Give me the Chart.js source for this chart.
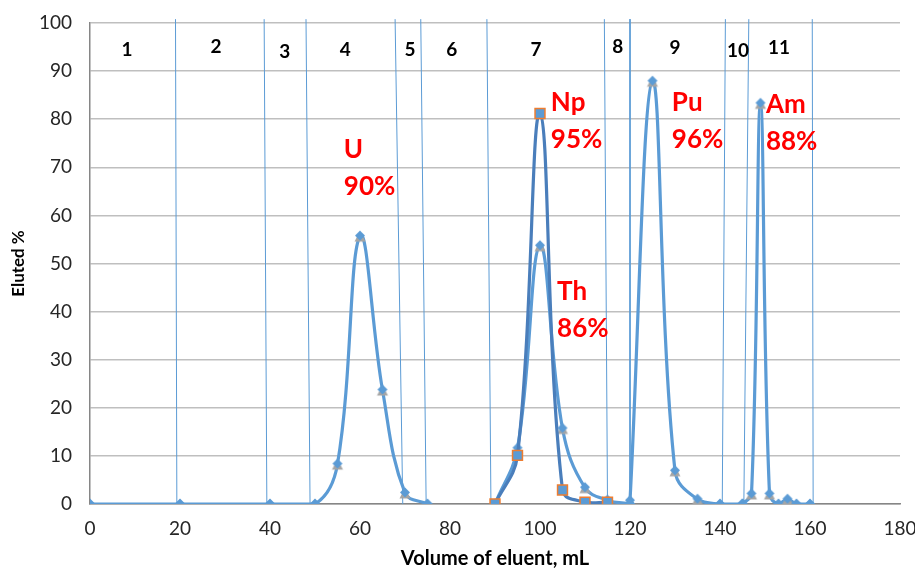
<!DOCTYPE html>
<html>
<head>
<meta charset="utf-8">
<script src="https://cdn.jsdelivr.net/npm/chart.js@4.4.1/dist/chart.umd.min.js"></script>
<style>
  html, body { margin: 0; padding: 0; background: #fff; }
  #wrap { width: 915px; height: 571px; position: relative; }
</style>
</head>
<body>
<div id="wrap"><canvas id="chart"></canvas></div>
<script>
// ---- data ----
const uX = [0, 20, 40, 50, 55, 60, 65, 70, 75];
const uY = [0, 0, 0, 0, 8.3, 55.7, 23.7, 2.3, 0];
const thX = [90, 95, 100, 105, 110, 115, 120];
const thY = [0, 11.6, 53.7, 15.7, 3.4, 0.8, 0];
const npX = [90, 95, 100, 105, 110, 115];
const npY = [0, 10.1, 81.2, 2.9, 0.4, 0.4];
const puX = [120, 125, 130, 135, 140, 145];
const puY = [0.7, 87.9, 6.9, 1.0, 0, 0];
const amX = [145, 147, 149, 151, 153, 155, 157, 160];
const amY = [0, 2.1, 83.3, 2.1, 0, 1.0, 0, 0];

// fraction boundaries (hand drawn, slightly slanted: x at top / x at bottom)
const boundaryTopX = [19.0, 38.7, 48.0, 67.8, 73.5, 88.2, 114.3, 120.0, 141.2, 146.4, 160.5];
const boundaryBottomX = [19.3, 39.3, 48.9, 69.5, 74.7, 89.1, 115.0, 120.0, 140.5, 145.3, 160.7];

const fractionNames = ['1', '2', '3', '4', '5', '6', '7', '8', '9', '10', '11'];
const fractionX = [8.2, 28, 43.3, 56.7, 71.1, 80.4, 99.1, 117.3, 130, 144, 153.1];
const fractionY = [94.4, 95, 94, 94.4, 94.4, 94.4, 94.4, 95, 94.8, 94.2, 94.8];

const elementNames = ['U', 'Np', 'Th', 'Pu', 'Am'];
const elementYields = ['90%', '95%', '86%', '96%', '88%'];
const elementX = [56.4, 102.4, 103.8, 129.3, 150.2];
const elementY = [73.6, 83.4, 44.1, 83.4, 83.0];

const xTicks = [0, 20, 40, 60, 80, 100, 120, 140, 160, 180];
const yTicks = [0, 10, 20, 30, 40, 50, 60, 70, 80, 90, 100];

const BLUE = '#5b9bd5';
const FONT = 'Lato, "Open Sans", sans-serif';

const pts = (xs, ys) => xs.map((x, i) => ({ x, y: ys[i] }));

// diamond marker with the grey triangle peeking out below (excel look)
function diamondMarker() {
  const c = document.createElement('canvas');
  c.width = 14; c.height = 14;
  const g = c.getContext('2d');
  g.fillStyle = '#a5a5a5';
  g.beginPath();
  g.moveTo(7, 2); g.lineTo(12.5, 12.5); g.lineTo(1.5, 12.5); g.closePath();
  g.fill();
  g.fillStyle = BLUE;
  g.beginPath();
  g.moveTo(7, 1.5); g.lineTo(12, 6.5); g.lineTo(7, 11.5); g.lineTo(2, 6.5); g.closePath();
  g.fill();
  return c;
}
const diamond = diamondMarker();

function curve(xs, ys, color) {
  return {
    data: pts(xs, ys),
    borderColor: color || BLUE,
    borderWidth: 3.2,
    tension: 0.4,
    pointStyle: diamond,
    pointRadius: 6,
    order: 1
  };
}

const boundaryLines = boundaryTopX.map((xt, i) => ({
  data: [{ x: xt, y: 100.8 }, { x: boundaryBottomX[i], y: 0 }],
  borderColor: BLUE,
  borderWidth: 1,
  pointRadius: 0,
  tension: 0,
  clip: false,
  order: 10
}));

const npSet = {
  data: pts(npX, npY),
  borderColor: '#4a7ebb',
  borderWidth: 3.2,
  tension: 0.4,
  pointStyle: 'rect',
  pointRadius: 7,
  pointBackgroundColor: BLUE,
  pointBorderColor: '#ed7d31',
  pointBorderWidth: 1.5,
  order: 0
};

const textPlugin = {
  id: 'texts',
  afterDatasetsDraw(chart) {
    const { ctx, scales: { x, y } } = chart;
    ctx.save();
    ctx.textBaseline = 'middle';
    ctx.fillStyle = '#000';
    ctx.textAlign = 'center';
    ctx.font = 'bold 19px ' + FONT;
    fractionNames.forEach((t, i) => {
      ctx.fillText(t, x.getPixelForValue(fractionX[i]), y.getPixelForValue(fractionY[i]));
    });
    ctx.fillStyle = '#ff0000';
    ctx.textAlign = 'left';
    ctx.font = 'bold 26px ' + FONT;
    elementNames.forEach((t, i) => {
      const px = x.getPixelForValue(elementX[i]);
      const py = y.getPixelForValue(elementY[i]);
      ctx.fillText(t, px, py);
      ctx.fillText(elementYields[i], px, py + 37);
    });
    ctx.restore();
  }
};

new Chart(document.getElementById('chart'), {
  type: 'line',
  data: {
    datasets: [
      ...boundaryLines,
      curve(uX, uY),
      curve(thX, thY),
      npSet,
      curve(puX, puY),
      curve(amX, amY)
    ]
  },
  plugins: [textPlugin],
  options: {
    responsive: true,
    maintainAspectRatio: false,
    animation: false,
    layout: { autoPadding: false, padding: { top: 23, right: 15, left: 0, bottom: 0 } },
    plugins: { legend: { display: false }, tooltip: { enabled: false } },
    scales: {
      x: {
        type: 'linear', min: 0, max: 180,
        afterBuildTicks: s => { s.ticks = xTicks.map(v => ({ value: v })); },
        afterFit: s => { s.height = 67; s.paddingLeft = 0; s.paddingRight = 0; },
        grid: { display: false, drawTicks: false },
        border: { color: '#868686', width: 1.5 },
        ticks: { color: '#262626', padding: 13, font: { family: FONT, size: 19 } },
        title: {
          display: true, text: 'Volume of eluent, mL', color: '#000',
          font: { family: FONT, size: 20, weight: 'bold' }, padding: { top: 10, bottom: 0 }
        }
      },
      y: {
        min: 0, max: 100,
        afterBuildTicks: s => { s.ticks = yTicks.map(v => ({ value: v })); },
        afterFit: s => { s.width = 90; s.paddingTop = 0; s.paddingBottom = 0; },
        grid: { color: '#bfbfbf', lineWidth: 1.5, drawTicks: false },
        border: { color: '#868686', width: 1.5 },
        ticks: { color: '#262626', padding: 18, font: { family: FONT, size: 19 } },
        title: {
          display: true, text: 'Eluted %', color: '#000',
          font: { family: FONT, size: 17, weight: 'bold' }, padding: { top: 8, bottom: 0 }
        }
      }
    }
  }
});
</script>
</body>
</html>
